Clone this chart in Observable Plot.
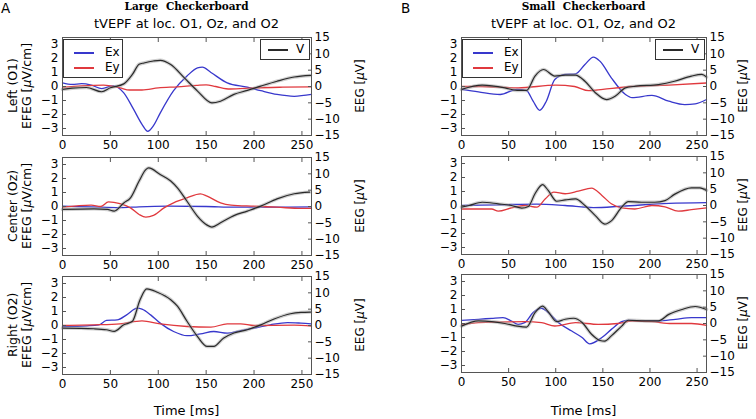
<!DOCTYPE html>
<html>
<head>
<meta charset="utf-8">
<script src="https://cdn.jsdelivr.net/npm/d3@7"></script>
<script src="https://cdn.jsdelivr.net/npm/@observablehq/plot@0.6"></script>
<style>
  body { margin: 0; background: #fff; }
  #root { position: relative; width: 756px; height: 419px; font-family: "DejaVu Sans", sans-serif; color: #000; overflow: hidden; }
  .abs { position: absolute; white-space: nowrap; }
  .rot { position: absolute; white-space: nowrap; writing-mode: vertical-rl; transform: translate(-50%, -50%) rotate(180deg); text-align: center; font-size: 12.5px; line-height: 14px; }
  .legend { position: absolute; border: 1px solid #333; background: #fff; font-size: 12px; }
  .legend .item { position: absolute; height: 14px; line-height: 14px; }
  .legend .swatch { position: absolute; height: 1.5px; }
  .panel { position: absolute; }
</style>
</head>
<body>
<div id="root"></div>
<script>
// ---------------- DATA ----------------
const xTicks = [0, 50, 100, 150, 200, 250];
const efegTicks = [-3, -2, -1, 0, 1, 2, 3];
const eegTicks = [-15, -10, -5, 0, 5, 10, 15];
const columns = ["Large   Checkerboard", "Small   Checkerboard"];
const columnLetters = ["A", "B"];
const rowNames = ["Left (O1)", "Center (Oz)", "Right (O2)"];
const subtitle = "tVEPF at loc. O1, Oz, and O2";

// Large checkerboard, O1
const L_O1_ExT = [0,10,20,30,41,53,64,74,83,89,95,102,116,130,141,146,155,172,193,207,224,242,260];
const L_O1_Ex  = [0.26,0.15,0.2,0.1,-0.15,0.05,-0.45,-1.6,-2.7,-3.2,-2.8,-1.9,-0.3,0.75,1.33,1.38,1.0,0.26,-0.05,-0.3,-0.57,-0.7,-0.57];
const L_O1_EyT = [0,20,43,60,70,83,100,120,140,150,160,175,200,230,260];
const L_O1_Ey  = [-0.05,0.05,0.1,-0.1,-0.25,-0.25,-0.1,-0.02,0.08,0.12,0.0,-0.18,-0.1,-0.05,-0.02];
const L_O1_VT  = [0,10,25,41,50,64,73,80,85,95,102,113,127,141,156,165,179,193,207,224,242,259];
const L_O1_V   = [-0.9,-0.5,-0.3,-1.6,-0.4,0.8,3.7,6.8,7.2,7.8,8.0,6.7,2.7,-1.4,-5.0,-4.5,-2.4,-1.2,0.1,1.6,2.9,3.4];

// Small checkerboard, O1
const S_O1_ExT = [0,18,41,59,69,76,83,90,99,110,121,131,140,147,159,174,181,202,220,237,248,260];
const S_O1_Ex  = [-0.2,-0.38,-0.57,-0.2,-0.3,-1.05,-1.7,-1.05,0.5,0.86,0.9,1.57,2.1,1.8,0.62,-0.57,-0.8,-0.64,-1.05,-1.29,-1.24,-0.93];
const S_O1_EyT = [0,20,60,100,120,135,150,180,220,260];
const S_O1_Ey  = [0.0,0.0,-0.1,0.1,0.0,-0.3,-0.2,0.0,0.1,0.25];
const S_O1_VT  = [0,22,46,59,69,78,87,99,110,121,131,142,154,163,174,185,209,226,244,255,260];
const S_O1_V   = [-0.9,0.4,-0.4,-1.2,-1.2,3.2,5.2,3.2,3.5,3.5,1.6,-1.9,-4.0,-3.0,-0.4,0.1,0.6,1.6,3.2,3.7,2.9];

// Large checkerboard, Oz
const L_Oz_ExT = [0,30,60,80,110,150,180,220,260];
const L_Oz_Ex  = [0.02,-0.03,-0.08,-0.02,0.02,0.0,-0.05,-0.05,-0.03];
const L_Oz_EyT = [0,30,40,48,60,71,80,87,95,106,116,130,144,151,165,176,200,224,249,260];
const L_Oz_Ey  = [-0.05,0.1,0.0,0.33,0.2,-0.1,-0.57,-0.76,-0.64,-0.1,0.26,0.62,0.9,0.74,0.26,0.1,0.02,-0.05,-0.14,-0.14];
const L_Oz_VT  = [0,33,47,54,64,71,80,87,90,102,113,120,130,141,151,156,165,179,193,207,224,242,258];
const L_Oz_V   = [-0.9,-0.7,-0.9,-1.4,1.1,2.65,7.8,11.3,11.8,9.8,7.8,5.7,1.6,-3.0,-5.7,-6.3,-5.0,-2.8,-1.4,0.1,2.35,3.9,4.4];

// Small checkerboard, Oz
const S_Oz_ExT = [0,40,80,110,140,170,220,260];
const S_Oz_Ex  = [0,0.05,0.1,0.0,-0.15,-0.05,0.15,0.2];
const S_Oz_EyT = [0,32,39,53,67,80,89,98,110,124,138,149,159,170,184,202,216,230,244,260];
const S_Oz_Ey  = [-0.25,-0.25,-0.4,-0.17,0,-0.12,0.48,0.96,0.84,1.02,1.24,0.72,0.12,-0.17,-0.25,0,-0.1,-0.4,-0.3,-0.17];
const S_Oz_VT  = [0,8,22,39,53,64,71,78,86,92,101,110,121,131,142,152,159,170,177,191,205,216,226,244,253,260];
const S_Oz_V   = [-0.5,0,1.0,0.5,0,-0.8,-0.3,3.6,6.4,4.6,1.3,1.7,2.0,0,-3.1,-5.7,-4.7,-0.5,1.2,1.0,1.0,1.5,3.4,5.4,5.4,4.6];

// Large checkerboard, O2
const L_O2_ExT = [0,26,38,46,57,67,78,83,92,102,116,130,144,158,172,186,200,217,235,249,260];
const L_O2_Ex  = [-0.07,-0.02,0.05,0.36,0.4,0.76,1.24,1.17,0.76,0.17,-0.43,-0.73,-0.6,-0.43,-0.55,-0.36,-0.19,0.05,0.21,0.17,0.12];
const L_O2_EyT = [0,33,60,83,102,130,155,172,186,200,242,260];
const L_O2_Ey  = [0,0.05,0.12,0.33,0.12,-0.07,-0.12,0.12,0.12,0,0.02,-0.05];
const L_O2_VT  = [0,33,46,54,64,73,81,88,99,113,120,130,141,151,158,168,179,193,207,221,238,249,259];
const L_O2_V   = [-0.8,-1.0,-1.3,-1.8,0.2,1.3,7.9,11.2,10.2,7.9,5.9,1.3,-3.4,-6.4,-6.4,-3.9,-2.3,-1.3,0.2,2.0,3.6,4.0,4.1];

// Small checkerboard, O2
const S_O2_ExT = [0,18,32,44,53,60,67,76,85,92,103,117,128,136,149,159,170,177,195,209,227,244,260];
const S_O2_Ex  = [0.23,0.3,0.37,0.42,0.18,-0.06,0.06,0.78,1.09,0.78,0.06,-0.54,-1.0,-1.45,-1.0,-0.42,0.13,0.23,0.18,0.18,0.3,0.42,0.42];
const S_O2_EyT = [0,18,67,85,99,121,145,166,181,202,223,244,260];
const S_O2_Ey  = [-0.1,0.06,0.13,0.06,-0.18,0.06,-0.06,0,0.18,0.13,0,0,-0.13];
const S_O2_VT  = [0,18,32,46,59,69,78,86,92,101,110,119,128,138,147,152,159,170,177,195,209,220,234,248,260];
const S_O2_V   = [-0.8,0.8,0.6,0,-0.8,-1.1,3.3,5.3,3.6,0.6,1.3,1.6,0.3,-3.3,-5.2,-5.4,-3.8,-0.8,1.0,0.8,0.8,2.8,4.3,5.2,4.3];

// ---------------- BUILD ----------------
const pts = (t, v) => t.map((x, i) => ({t: x, v: v[i]}));
const grid = [
  [ {ex: pts(L_O1_ExT, L_O1_Ex), ey: pts(L_O1_EyT, L_O1_Ey), V: pts(L_O1_VT, L_O1_V)},
    {ex: pts(L_Oz_ExT, L_Oz_Ex), ey: pts(L_Oz_EyT, L_Oz_Ey), V: pts(L_Oz_VT, L_Oz_V)},
    {ex: pts(L_O2_ExT, L_O2_Ex), ey: pts(L_O2_EyT, L_O2_Ey), V: pts(L_O2_VT, L_O2_V)} ],
  [ {ex: pts(S_O1_ExT, S_O1_Ex), ey: pts(S_O1_EyT, S_O1_Ey), V: pts(S_O1_VT, S_O1_V)},
    {ex: pts(S_Oz_ExT, S_Oz_Ex), ey: pts(S_Oz_EyT, S_Oz_Ey), V: pts(S_Oz_VT, S_Oz_V)},
    {ex: pts(S_O2_ExT, S_O2_Ex), ey: pts(S_O2_EyT, S_O2_Ey), V: pts(S_O2_VT, S_O2_V)} ]
];

const EMAX = 3.5, VMAX = 15;
const toE = v => v * EMAX / VMAX;               // twin-axis mapping of EEG onto EFEG scale
const minus = n => n < 0 ? "\u2212" + (-n) : String(n);
const blue = "#3838cc", red = "#e0393e", dark = "#2a2a2a";

// layout geometry of each column (frame: left col 62..311, right col 461..706)
const colGeom = [
  {left: 0,   w: 378, mL: 62, mR: 67, tops: [37, 157, 276], rl: 360},
  {left: 378, w: 366, mL: 83, mR: 38, tops: [37, 156, 274], rl: 365}
];
const FH = 98, MT = 6, MB = 24;

const root = document.getElementById("root");
function addDiv(cls, style, html) {
  const d = document.createElement("div");
  d.className = cls;
  Object.assign(d.style, style);
  d.innerHTML = html;
  root.appendChild(d);
  return d;
}

grid.forEach((col, c) => {
  const g = colGeom[c];
  col.forEach((p, r) => {
    const chart = Plot.plot({
      width: g.w, height: FH + MT + MB,
      marginLeft: g.mL, marginRight: g.mR, marginTop: MT, marginBottom: MB,
      style: {fontFamily: "DejaVu Sans", fontSize: "12px", color: "#000", background: "transparent"},
      x: {domain: [0, 260]},
      y: {domain: [-EMAX, EMAX]},
      marks: [
        Plot.line(p.ex, {x: "t", y: "v", stroke: blue, strokeWidth: 1.3, curve: "monotone-x"}),
        Plot.line(p.ey, {x: "t", y: "v", stroke: red, strokeWidth: 1.3, curve: "monotone-x"}),
        Plot.line(p.V, {x: "t", y: d => toE(d.v), stroke: "#a0a0a0", strokeOpacity: 0.5, strokeWidth: 3.5, curve: "monotone-x"}),
        Plot.line(p.V, {x: "t", y: d => toE(d.v), stroke: dark, strokeWidth: 1.2, curve: "monotone-x"}),
        Plot.frame({stroke: "#555"}),
        Plot.axisX({ticks: xTicks, tickSize: -4, tickPadding: 9, stroke: "#555", label: null, tickFormat: d => String(d)}),
        Plot.axisX({anchor: "top", ticks: xTicks, tickSize: -4, stroke: "#555", label: null, tickFormat: () => ""}),
        Plot.axisY({ticks: efegTicks, tickSize: -4, tickPadding: 8, stroke: "#555", label: null, tickFormat: minus}),
        Plot.axisY({anchor: "right", ticks: eegTicks.map(toE), tickSize: -4, tickPadding: 7, stroke: "#555", label: null,
                    tickFormat: d => minus(Math.round(d * VMAX / EMAX))})
      ]
    });
    const holder = addDiv("panel", {left: g.left + "px", top: (g.tops[r] - MT) + "px"}, "");
    holder.appendChild(chart);

    const cy = g.tops[r] + FH / 2;
    // left two-line label
    addDiv("rot", {left: (g.left + (c === 0 ? 20 : 414)) + "px", top: cy + "px"},
      rowNames[r] + "<br>EFEG [<i>μ</i>V/cm]");
    // right label
    addDiv("rot", {left: (g.left + g.rl) + "px", top: cy + "px", fontSize: "12px"},
      "EEG [<i>μ</i>V]");
  });

  const xc = g.left + g.mL + (g.w - g.mL - g.mR) / 2;
  addDiv("abs", {left: (g.left + (c === 0 ? 1 : 23)) + "px", top: "0px", fontSize: "13.5px"}, columnLetters[c]);
  addDiv("abs", {left: xc + "px", top: "0px", transform: "translateX(-50%)", fontFamily: "'DejaVu Serif', serif",
                 fontWeight: "bold", fontSize: "10.5px", wordSpacing: "4px"}, columns[c]);
  addDiv("abs", {left: xc + "px", top: "16px", transform: "translateX(-50%)", fontSize: "13px"}, subtitle);
  addDiv("abs", {left: xc + "px", top: "403px", transform: "translateX(-50%)", fontSize: "13px"}, "Time [ms]");

  // legends (top panel only)
  const fl = g.left + g.mL;
  addDiv("legend", {left: (fl + 1) + "px", top: "39px", width: "58px", height: "37px"},
    `<div class="swatch" style="left:10px;top:12px;width:20px;background:${blue}"></div>
     <div class="item" style="left:41px;top:5px">Ex</div>
     <div class="swatch" style="left:10px;top:27px;width:20px;background:${red}"></div>
     <div class="item" style="left:41px;top:20px">Ey</div>`);
  const frameRight = g.left + g.w - g.mR;
  addDiv("legend", {left: (frameRight - 51) + "px", top: "39px", width: "48px", height: "19px"},
    `<div class="swatch" style="left:7px;top:9px;width:20px;background:${dark}"></div>
     <div class="item" style="left:35px;top:2px">V</div>`);
});
</script>
</body>
</html>
